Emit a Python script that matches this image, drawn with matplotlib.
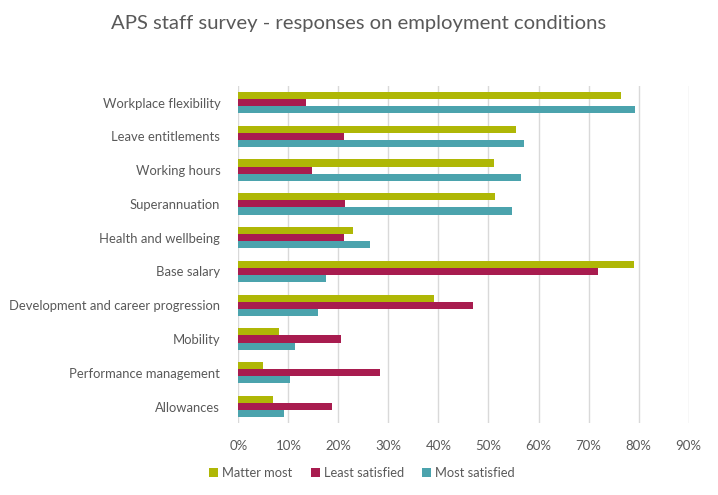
import matplotlib.pyplot as plt
import numpy as np
from matplotlib.ticker import PercentFormatter

# Categories top to bottom
categories = [
    "Workplace flexibility", "Leave entitlements", "Working hours",
    "Superannuation", "Health and wellbeing", "Base salary",
    "Development and career progression", "Mobility",
    "Performance management", "Allowances",
]
matter_most = [76.5, 55.5, 51.1, 51.3, 22.9, 79.1, 39.1, 8.1, 4.9, 6.9]
least_satisfied = [13.5, 21.1, 14.7, 21.3, 21.1, 71.9, 46.9, 20.5, 28.3, 18.7]
most_satisfied = [79.3, 57.1, 56.5, 54.7, 26.3, 17.5, 15.9, 11.3, 10.3, 9.1]

series = [
    ("Matter most", matter_most, "#AFB706"),
    ("Least satisfied", least_satisfied, "#A81C4F"),
    ("Most satisfied", most_satisfied, "#4BA3AD"),
]

plt.rcParams['font.family'] = ['Lato', 'DejaVu Sans']
text_color = '#595959'

fig = plt.figure(figsize=(7.18, 4.95), dpi=100)
ax = fig.add_axes([0.332, 0.1446, 0.627, 0.6824])

y = np.arange(len(categories))
h = 0.21
for i, (name, vals, color) in enumerate(series):
    ax.barh(y + (i - 1) * h, vals, height=h, color=color, label=name, zorder=3)

ax.set_ylim(len(categories) - 0.5, -0.5)
ax.set_xlim(0, 90)
ax.set_xticks(np.arange(0, 91, 10))
ax.xaxis.set_major_formatter(PercentFormatter(decimals=0))
ax.set_yticks(y)
ax.set_yticklabels(categories)
ax.grid(axis='x', color='#D9D9D9', linewidth=1, zorder=0)
for s in ax.spines.values():
    s.set_visible(False)
ax.tick_params(axis='both', length=0, labelsize=9.5, labelcolor=text_color)
ax.tick_params(axis='y', labelsize=9.4, pad=13)
ax.tick_params(axis='x', pad=12)

fig.suptitle("APS staff survey - responses on employment conditions",
             x=0.5, y=0.97, fontsize=14.6, color=text_color)

fig.legend(loc='center', bbox_to_anchor=(0.504, 0.045), ncol=3, frameon=False,
           fontsize=9.3, labelcolor=text_color, handlelength=0.7,
           handleheight=0.7, handletextpad=0.3, columnspacing=1.4)

fig.savefig("out.png", dpi=100)
